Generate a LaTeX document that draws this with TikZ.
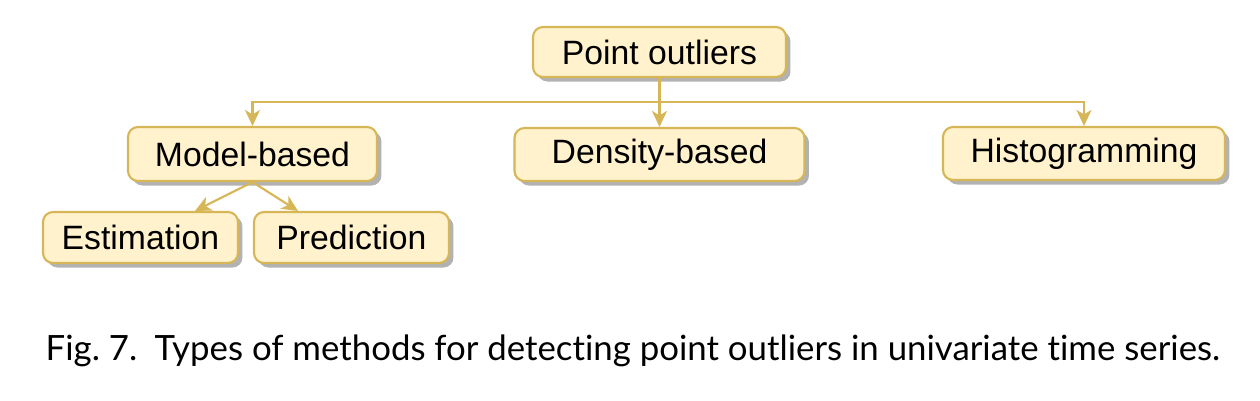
\documentclass[tikz,border=0pt]{standalone}
\usepackage{fontspec}
\setmainfont{Liberation Sans}
\newfontfamily\captionfont[Ligatures={NoCommon,NoContextual,NoRequired}]{Lato}
\usetikzlibrary{arrows.meta,shadows}
\definecolor{boxfill}{HTML}{FFF2CC}
\definecolor{boxline}{HTML}{D6B656}

\begin{document}
\begin{tikzpicture}
		\tikzstyle{boite} = [draw=boxline, fill=boxfill, line width=0.6pt, rounded corners=1mm, inner sep=0pt,
			font=\fontsize{9.6}{11}\selectfont,
			drop shadow={shadow xshift=0.45mm, shadow yshift=-0.45mm, fill=black!30, opacity=1}];
		\tikzstyle{lien} = [draw=boxline, line width=0.6pt, -{Stealth[length=1.6mm,width=1.5mm,inset=0.45mm]}];
		
		\useasboundingbox (0,0) rectangle (12.6,-4);
		
		
		\node[boite, minimum width=2.53cm, minimum height=0.50cm] (po) at (6.595,-0.52) {Point outliers};
		\node[boite, minimum width=2.49cm, minimum height=0.54cm] (mb) at (2.525,-1.54) {Model-based};
		\node[boite, minimum width=2.90cm, minimum height=0.53cm] (db) at (6.595,-1.545) {Density-based};
		\node[boite, minimum width=2.82cm, minimum height=0.53cm] (hg) at (10.84,-1.535) {Histogramming};
		\node[boite, minimum width=1.95cm, minimum height=0.51cm] (es) at (1.405,-2.375) {Estimation};
		\node[boite, minimum width=1.95cm, minimum height=0.51cm] (pr) at (3.515,-2.375) {Prediction};
		
		
		\coordinate (fourche) at (6.595,-1.02);
		\draw[lien] (po.south) -- (db.north);
		\draw[lien] (fourche) -| (mb.north);
		\draw[lien] (fourche) -| (hg.north);
		\draw[lien] (mb.south) -- ([xshift=5.45mm]es.north);
		\draw[lien] (mb.south) -- ([xshift=-5.35mm]pr.north);
		
		
		\node[anchor=base west, inner sep=0pt, font=\captionfont\fontsize{9.9}{12}\selectfont] (legende) at (0.45,-3.60)
			{Fig.~7.\enspace Types of methods for detecting point outliers in univariate time series.};
		
		
	\end{tikzpicture}
\end{document}
